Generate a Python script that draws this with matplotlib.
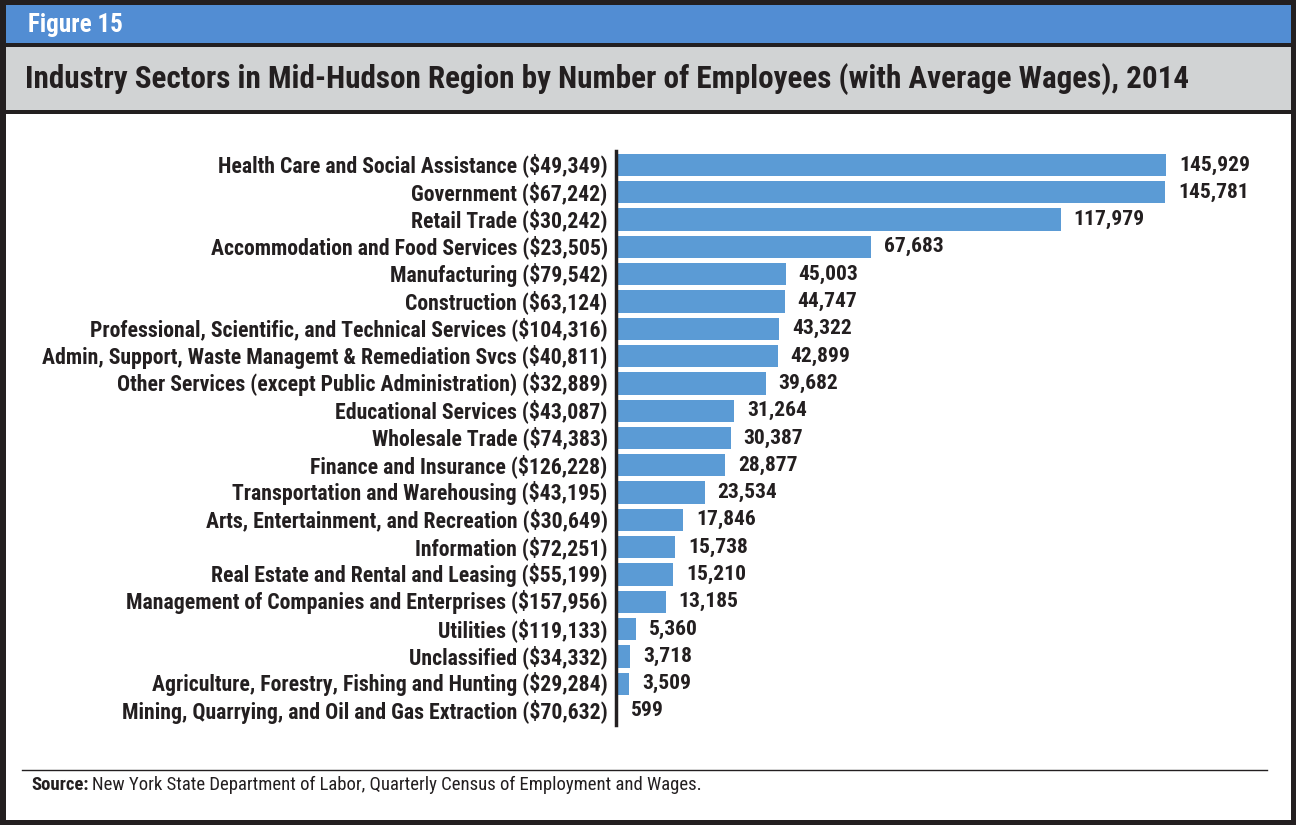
import matplotlib
matplotlib.use("Agg")
import matplotlib.pyplot as plt
from matplotlib.patches import Rectangle
from matplotlib.lines import Line2D
from matplotlib import font_manager
from matplotlib.transforms import ScaledTranslation

bold_names = {f.name for f in font_manager.fontManager.ttflist
              if (f.weight == "bold" or (isinstance(f.weight, int) and f.weight >= 700))}
NARROW = "Liberation Sans"
for cand in ["Liberation Sans Narrow", "Arial Narrow", "Roboto Condensed", "Archivo Narrow",
             "PT Sans Narrow", "IBM Plex Sans Condensed", "Open Sans Condensed"]:
    if cand in bold_names:
        NARROW = cand
        break

categories = [
    "Health Care and Social Assistance ($49,349)",
    "Government ($67,242)",
    "Retail Trade ($30,242)",
    "Accommodation and Food Services ($23,505)",
    "Manufacturing ($79,542)",
    "Construction ($63,124)",
    "Professional, Scientific, and Technical Services ($104,316)",
    "Admin, Support, Waste Managemt & Remediation Svcs ($40,811)",
    "Other Services (except Public Administration) ($32,889)",
    "Educational Services ($43,087)",
    "Wholesale Trade ($74,383)",
    "Finance and Insurance ($126,228)",
    "Transportation and Warehousing ($43,195)",
    "Arts, Entertainment, and Recreation ($30,649)",
    "Information ($72,251)",
    "Real Estate and Rental and Leasing ($55,199)",
    "Management of Companies and Enterprises ($157,956)",
    "Utilities ($119,133)",
    "Unclassified ($34,332)",
    "Agriculture, Forestry, Fishing and Hunting ($29,284)",
    "Mining, Quarrying, and Oil and Gas Extraction ($70,632)",
]
employees = [145929, 145781, 117979, 67683, 45003, 44747, 43322, 42899, 39682,
             31264, 30387, 28877, 23534, 17846, 15738, 15210, 13185, 5360, 3718,
             3509, 599]

W, H = 1296, 825
fig = plt.figure(figsize=(W / 100, H / 100), dpi=100)
fig.patch.set_facecolor("white")
renderer = fig.canvas.get_renderer()

DARK = "#231f20"
BLUE_HDR = "#528dd3"
GREY = "#d1d3d4"
BAR = "#5b9bd5"

def px(x, y, w, h):
    return (x / W, 1 - (y + h) / H, w / W, h / H)

def rect(x, y, w, h, color):
    l, b, ww, hh = px(x, y, w, h)
    fig.patches.append(Rectangle((l, b), ww, hh, transform=fig.transFigure,
                                 facecolor=color, edgecolor="none", zorder=-5))

def fit_size(text, weight, target_px, start=12.0):
    t = fig.text(0, 0, text, fontsize=start, fontweight=weight, family=NARROW)
    w = t.get_window_extent(renderer).width
    t.remove()
    return start * target_px / w

# frame
rect(0, 0, W, H, DARK)
rect(6, 5, W - 11, 38, BLUE_HDR)
rect(6, 47, W - 11, 63, GREY)
rect(6, 114, W - 11, H - 114 - 5, "white")

fs_fig = min(fit_size("Figure 15", "bold", 95), 20)
fig.text(28 / W, 1 - 25 / H, "Figure 15", color="white", fontsize=fs_fig,
         fontweight="bold", family=NARROW, va="center", ha="left")
title = "Industry Sectors in Mid-Hudson Region by Number of Employees (with Average Wages), 2014"
fs_title = min(fit_size(title, "bold", 1165), 26)
fig.text(25 / W, 1 - 79 / H, title, color=DARK, fontsize=fs_title, fontweight="bold",
         family=NARROW, va="center", ha="left")

# source
fig.lines.append(Line2D([22 / W, 1267 / W], [1 - 770 / H] * 2, transform=fig.transFigure,
                        color=DARK, lw=1))
src_rest = "New York State Department of Labor, Quarterly Census of Employment and Wages."
fs_src = min(fit_size(src_rest, "normal", 708 - 97), 14.5)
t = fig.text(31 / W, 1 - 785 / H, "Source:", fontsize=fs_src, fontweight="bold",
             family=NARROW, color=DARK, va="center", ha="left")
bb = t.get_window_extent(renderer)
fig.text((bb.x1 + 4) / W, 1 - 785 / H, src_rest,
         fontsize=fs_src, family=NARROW, color=DARK, va="center", ha="left")

# bars axes
xmax = 160000
ax_w = xmax * 550 / 145929
spacing = (711 - 165) / 20
top = 165 - spacing / 2
bot = 711 + spacing / 2
ax = fig.add_axes(px(616, top, ax_w, bot - top))
ax.set_facecolor("none")
ys = list(range(len(categories)))
ax.barh(ys, employees, height=0.82, color=BAR, zorder=2)
ax.set_ylim(len(categories) - 0.5, -0.5)
ax.set_xlim(0, xmax)
for s in ["top", "right", "bottom"]:
    ax.spines[s].set_visible(False)
ax.spines["left"].set_linewidth(2.5)
ax.spines["left"].set_color(DARK)
ax.spines["left"].set_zorder(3)
ax.set_xticks([])
ax.set_yticks(ys)
fs_cat = min(fit_size(categories[0], "bold", 391), 16)
ax.set_yticklabels(categories, fontsize=fs_cat, fontweight="bold", family=NARROW, color=DARK)
ax.tick_params(axis="y", length=0, pad=6)
shift = ScaledTranslation(0, 2.0 / 100, fig.dpi_scale_trans)
for lab in ax.get_yticklabels():
    lab.set_transform(lab.get_transform() + shift)
fs_val = min(fit_size("145,929", "bold", 70), 17)
for y, v in zip(ys, employees):
    ax.annotate(f"{v:,}", (v, y), xytext=(13, 0), textcoords="offset pixels",
                va="center", ha="left", fontsize=fs_val, fontweight="bold",
                family=NARROW, color=DARK)

fig.savefig("out.png", dpi=100)
